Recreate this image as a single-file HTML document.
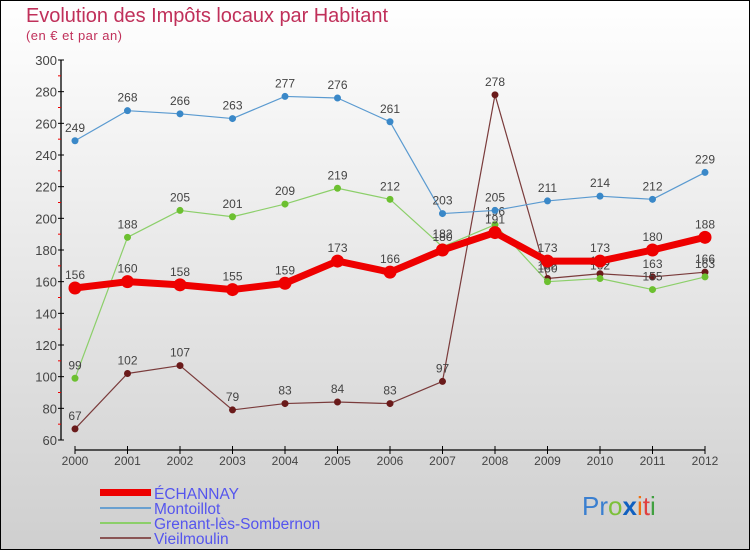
<!DOCTYPE html>
<html><head><meta charset="utf-8"><style>
body{margin:0}
svg{display:block;font-family:"Liberation Sans",sans-serif}
</style></head><body>
<svg id="c" width="750" height="550">
<defs><linearGradient id="bg" x1="0" y1="0" x2="0" y2="1"><stop offset="0" stop-color="#ffffff"/><stop offset="1" stop-color="#cfcfcf"/></linearGradient></defs>
<rect x="0.5" y="0.5" width="749" height="549" fill="url(#bg)" stroke="#000"/>
<text x="26" y="22" font-size="20" fill="#c0305a" textLength="362">Evolution des Impôts locaux par Habitant</text>
<text x="26" y="40" font-size="13" fill="#c0305a" textLength="96">(en € et par an)</text>
<g id="axes"></g><g id="series"></g>
<g>
<rect x="100" y="489" width="51" height="7" fill="#e00"/>
<line x1="100" y1="508" x2="151" y2="508" stroke="#6aa0d0" stroke-width="2"/>
<line x1="100" y1="523" x2="151" y2="523" stroke="#8ccf6a" stroke-width="2"/>
<line x1="100" y1="538" x2="151" y2="538" stroke="#8a5555" stroke-width="2"/>
<g font-size="15.5" fill="#5555ee">
<text x="154" y="499">ÉCHANNAY</text>
<text x="154" y="514">Montoillot</text>
<text x="154" y="529">Grenant-lès-Sombernon</text>
<text x="154" y="544">Vieilmoulin</text>
</g></g>
<g font-size="26"><text x="582" y="515"><tspan fill="#3a7fd0">Pr</tspan><tspan fill="#7cc03a">o</tspan><tspan fill="#1060c0" font-weight="bold">x</tspan><tspan fill="#f07010">i</tspan><tspan fill="#e04040">t</tspan><tspan fill="#40a040">i</tspan></text></g>
</svg>
<script>
const years=["2000","2001","2002","2003","2004","2005","2006","2007","2008","2009","2010","2011","2012"];
const yTicks=[60,80,100,120,140,160,180,200,220,240,260,280,300];
const echannay=[156,160,158,155,159,173,166,180,191,173,173,180,188];
const montoillot=[249,268,266,263,277,276,261,203,205,211,214,212,229];
const grenant=[99,188,205,201,209,219,212,182,196,160,162,155,163];
const vieilmoulin=[67,102,107,79,83,84,83,97,278,162,165,163,166];
const NS="http://www.w3.org/2000/svg";
const X=i=>75+i*52.5;
const Y=v=>440-(v-60)*380/240;
function mk(t,a,p){const e=document.createElementNS(NS,t);for(const k in a)e.setAttribute(k,a[k]);p.appendChild(e);return e;}
const ax=document.getElementById('axes');
let l=mk('line',{x1:61,y1:60,x2:61,y2:440,stroke:'#000','stroke-width':1.3},ax);


l=mk('line',{x1:75,y1:450,x2:705,y2:450,stroke:'#000','stroke-width':1.3},ax);


yTicks.forEach((v,i)=>{
 mk('line',{x1:58,y1:Y(v),x2:64,y2:Y(v),stroke:'#000'},ax);
 if(i<yTicks.length-1)mk('line',{x1:58,y1:Y(v+10),x2:61,y2:Y(v+10),stroke:'#e00'},ax);
 const t=mk('text',{x:57,y:Y(v)+5,'font-size':13,fill:'#444','text-anchor':'end'},ax);t.textContent=v;
 
 
});
years.forEach((y,i)=>{
 mk('line',{x1:X(i),y1:446,x2:X(i),y2:454,stroke:'#000'},ax);
 const t=mk('text',{x:X(i),y:465,'font-size':12,fill:'#444','text-anchor':'middle'},ax);t.textContent=y;
 
 
});
const sg=document.getElementById('series');
function draw(data,color,dot,w,r,name){
 const g=mk('g',{},sg);
 
 
 mk('polyline',{points:data.map((v,i)=>X(i)+','+Y(v)).join(' '),fill:'none',stroke:color,'stroke-width':w,'stroke-linejoin':'round'},g);
 data.forEach((v,i)=>{
  const c=mk('circle',{cx:X(i),cy:Y(v),r:r,fill:dot},g);
  
  
  const t=mk('text',{x:X(i),y:Y(v)-9,'font-size':12,fill:'#444','text-anchor':'middle'},g);t.textContent=v;
 });
}
draw(vieilmoulin,'#7a3b3b','#6a1a1a',1.2,3.5,'vieilmoulin');
draw(grenant,'#8ccf6a','#6cc030',1.2,3.5,'grenant');
draw(montoillot,'#5a9ad0','#3a88c8',1.2,3.5,'montoillot');
draw(echannay,'#ee0000','#ee0000',7,6.5,'echannay');
</script>
</body></html>
